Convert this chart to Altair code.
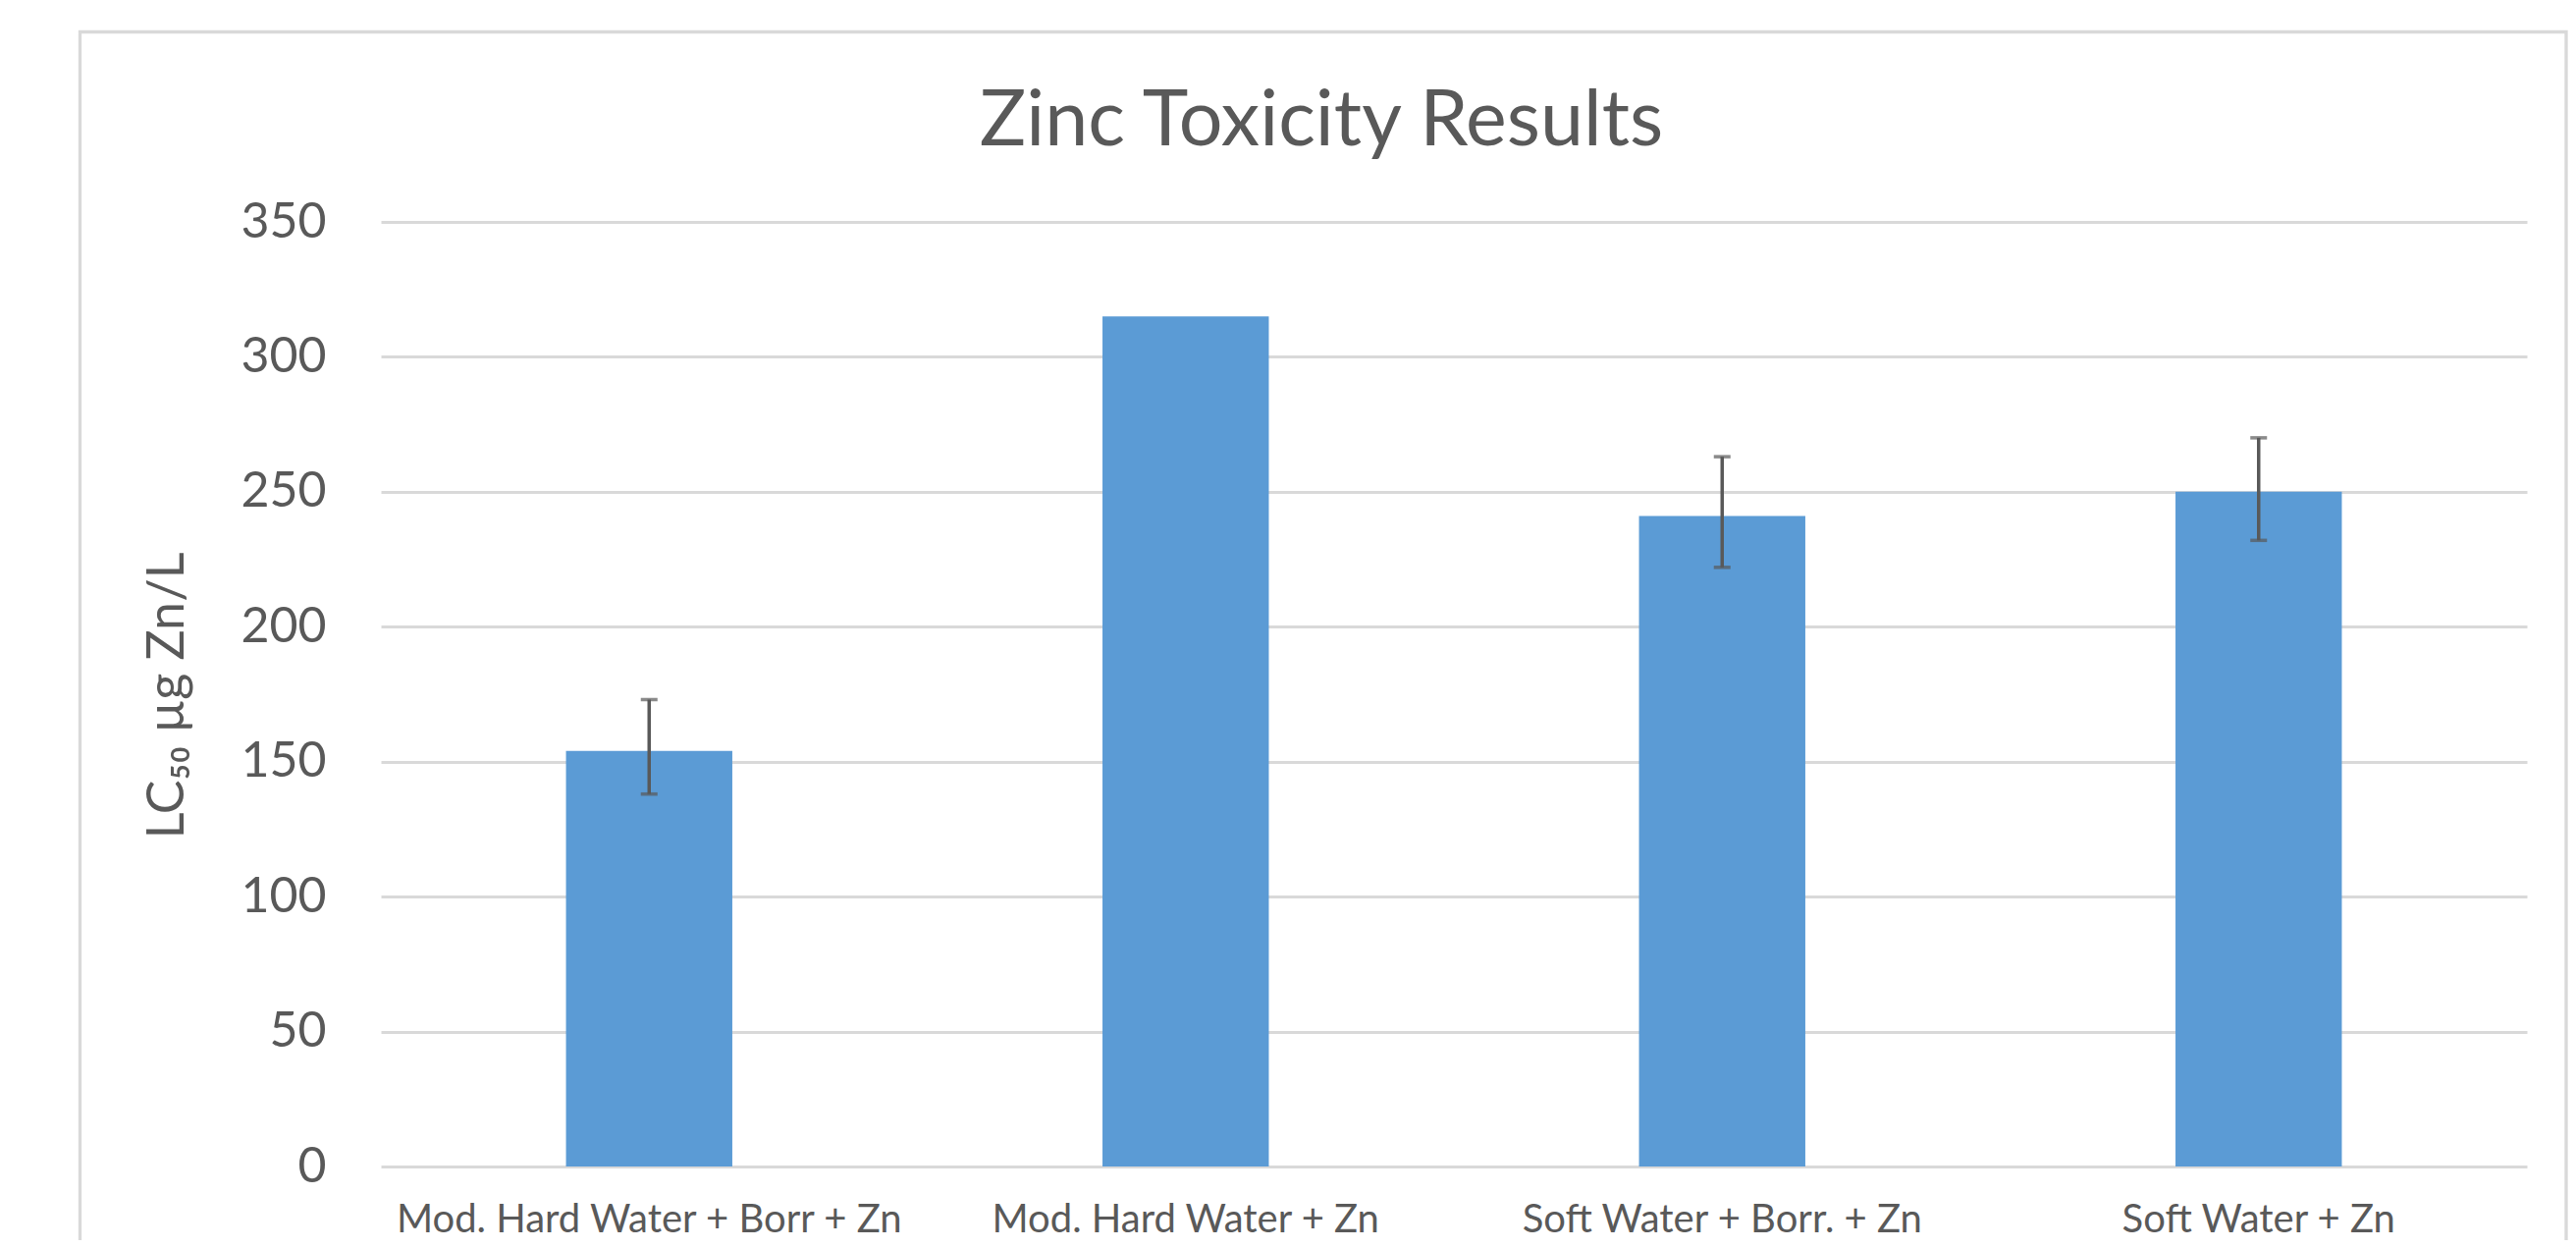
import altair as alt
import pandas as pd

categories = ["Mod. Hard Water + Borr + Zn", "Mod. Hard Water + Zn",
              "Soft Water + Borr. + Zn", "Soft Water + Zn"]
values = [154, 315, 241, 250]
err_low = [138, None, 222, 232]
err_high = [173, None, 263, 270]
y_ticks = [0, 50, 100, 150, 200, 250, 300, 350]

df = pd.DataFrame({"category": categories, "value": values,
                   "low": err_low, "high": err_high})

TEXT = "#595959"
FONT = "Lato"
YTITLE = "LC₅₀  µg Zn/L"

x_enc = alt.X("category:N", sort=categories,
              scale=alt.Scale(paddingInner=0.69, paddingOuter=0.345),
              axis=alt.Axis(title=None, labelAngle=0, labelFontSize=40, labelFont=FONT,
                            labelColor=TEXT, labelPadding=34, labelLimit=0,
                            domain=False, ticks=False, tickSize=0, grid=False))

y_axis = alt.Axis(values=y_ticks, grid=True, gridColor="#D9D9D9", gridWidth=3,
                  domain=False, ticks=False, tickSize=0,
                  labelFontSize=50, labelFont=FONT, labelColor=TEXT, labelPadding=56,
                  title=YTITLE, titleFontSize=52, titleFont=FONT, titleFontWeight="normal",
                  titleColor=TEXT, titleX=-202, titleY=482, titleAngle=270,
                  titleBaseline="alphabetic", titleAlign="center")
y_scale = alt.Scale(domain=[0, 350], nice=False)

base = alt.Chart(df)

border = alt.Chart(alt.Data(values=[{"a": 1}])).mark_rect(
    fillOpacity=0, stroke="#D9D9D9", strokeWidth=3.3
).encode(x=alt.value(-306.5), x2=alt.value(2226), y=alt.value(-193.5), y2=alt.value(1090))

bars = base.mark_bar(color="#5B9BD5").encode(
    x=x_enc, y=alt.Y("value:Q", scale=y_scale, axis=y_axis))

errs = base.transform_filter("datum.low != null")
stems = errs.mark_rule(color=TEXT, strokeWidth=3.5).encode(
    x=x_enc, y=alt.Y("low:Q", scale=y_scale, axis=y_axis), y2="high:Q")
caps_lo = errs.mark_tick(orient="horizontal", size=17, thickness=3.5, color=TEXT).encode(
    x=x_enc, y=alt.Y("low:Q", scale=y_scale, axis=y_axis))
caps_hi = errs.mark_tick(orient="horizontal", size=17, thickness=3.5, color=TEXT).encode(
    x=x_enc, y=alt.Y("high:Q", scale=y_scale, axis=y_axis))

chart = alt.layer(border, bars, stems, caps_lo, caps_hi).properties(
    width=2186, height=962,
    autosize=alt.AutoSizeParams(type="none"),
    padding={"left": 380, "top": 218, "right": 42, "bottom": 75},
    background="white",
    title=alt.TitleParams("Zinc Toxicity Results", fontSize=79, font=FONT,
                          fontWeight="normal", color=TEXT, anchor="middle",
                          frame="group", offset=0, dx=-135, dy=196,
                          baseline="alphabetic"),
).configure_view(stroke=None)

chart.save("out.html", embed_options={"renderer": "svg", "actions": False})
